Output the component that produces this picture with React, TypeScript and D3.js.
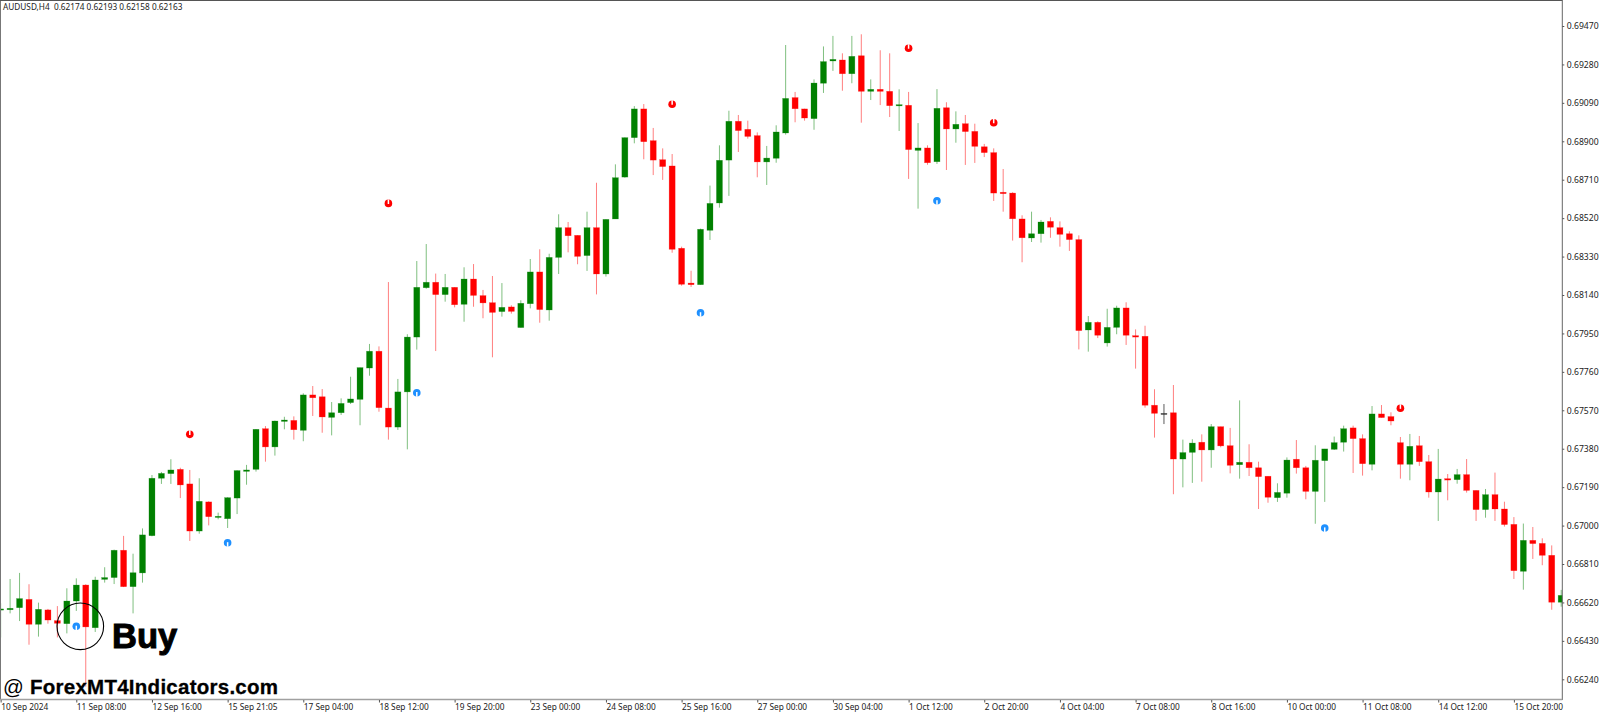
import * as d3 from "d3";
import { useEffect, useRef } from "react";

// prices are stored in points (1 point = 0.00001)
const opens = [
  66585, 66584, 66594, 66635, 66512, 66583, 66530, 66515, 66627, 66706, 66495, 66734, 66743, 66878, 66698, 66766,
  66950, 67234, 67257, 67278, 67206, 66973, 67117, 67041, 67034, 67136, 67268, 67278, 67479, 67389, 67515, 67520,
  67471, 67646, 67637, 67535, 67558, 67608, 67624, 67779, 67862, 67581, 67487, 67661, 67932, 68176, 68203, 68142,
  68178, 68094, 68219, 68137, 68102, 68058, 68081, 67979, 68097, 68254, 68066, 68326, 68473, 68435, 68335, 68473,
  68244, 68516, 68723, 68918, 69060, 68903, 68809, 68778, 68371, 68199, 68191, 68460, 68595, 68807, 68999, 68959,
  68928, 68798, 68816, 68941, 69116, 69060, 69012, 69187, 69297, 69302, 69234, 69323, 69147, 69157, 69147, 69076,
  69078, 68855, 68867, 68799, 69066, 68961, 68987, 68949, 68873, 68844, 68648, 68644, 68516, 68422, 68443, 68504,
  68473, 68443, 68414, 67967, 68005, 67903, 67980, 68076, 67939, 67936, 67595, 67555, 67558, 67329, 67362, 67412,
  67374, 67489, 67395, 67301, 67313, 67286, 67244, 67138, 67160, 67328, 67286, 67169, 67321, 67377, 67412, 67483,
  67430, 67303, 67552, 67539, 67410, 67303, 67395, 67316, 67166, 67232, 67227, 67252, 67174, 67079, 67153, 67082,
  67006, 66774, 66927, 66912, 66853, 66621,
];
const highs = [
  66616, 66736, 66766, 66710, 66619, 66588, 66602, 66690, 66739, 66710, 66747, 66794, 66881, 66949, 66861, 66986,
  67250, 67265, 67328, 67286, 67275, 67234, 67120, 67064, 67140, 67273, 67300, 67477, 67492, 67519, 67538, 67540,
  67654, 67690, 67675, 67611, 67629, 67736, 67781, 67898, 67886, 68204, 67725, 67946, 68308, 68392, 68246, 68244,
  68178, 68277, 68293, 68165, 68234, 68199, 68089, 68114, 68318, 68366, 68344, 68539, 68501, 68435, 68552, 68695,
  68514, 68786, 68919, 69074, 69084, 68966, 68865, 68837, 68379, 68260, 68468, 68681, 68880, 69051, 69030, 69002,
  68944, 68877, 68979, 69376, 69144, 69061, 69206, 69369, 69421, 69335, 69421, 69429, 69206, 69350, 69335, 69157,
  69144, 68990, 68880, 69158, 69093, 69048, 69030, 68987, 68887, 68865, 68763, 68648, 68534, 68552, 68511, 68524,
  68504, 68455, 68435, 68036, 68010, 68072, 68087, 68104, 67970, 67988, 67674, 67601, 67695, 67425, 67427, 67451,
  67502, 67489, 67483, 67619, 67402, 67316, 67244, 67209, 67337, 67423, 67295, 67397, 67379, 67440, 67494, 67494,
  67451, 67591, 67596, 67560, 67438, 67453, 67443, 67349, 67379, 67255, 67280, 67329, 67174, 67181, 67262, 67118,
  67042, 67010, 66993, 66937, 66902, 66682,
];
const lows = [
  66447, 66566, 66528, 66411, 66451, 66515, 66447, 66467, 66578, 66204, 66474, 66718, 66711, 66696, 66566, 66718,
  66947, 67206, 67206, 67136, 66924, 66960, 67001, 67031, 66988, 67057, 67202, 67267, 67316, 67346, 67476, 67425,
  67417, 67542, 67459, 67446, 67547, 67601, 67496, 67741, 67563, 67425, 67473, 67377, 67870, 68171, 67863, 68107,
  68079, 68008, 68082, 68025, 67832, 68033, 68048, 67979, 68074, 68003, 68013, 68244, 68351, 68292, 68259, 68143,
  68231, 68516, 68720, 68890, 68811, 68733, 68709, 68349, 68186, 68180, 68191, 68412, 68572, 68630, 68847, 68913,
  68722, 68684, 68794, 68933, 68994, 69002, 68957, 69139, 69248, 69150, 69187, 68992, 69104, 69079, 69020, 68951,
  68714, 68567, 68784, 68788, 68758, 68893, 68783, 68793, 68822, 68605, 68552, 68409, 68302, 68402, 68399, 68423,
  68379, 68358, 67871, 67860, 67927, 67885, 67946, 67893, 67776, 67583, 67435, 67502, 67155, 67189, 67211, 67217,
  67286, 67387, 67258, 67232, 67245, 67082, 67113, 67117, 67138, 67257, 67130, 67009, 67117, 67374, 67366, 67260,
  67247, 67273, 67534, 67496, 67232, 67224, 67295, 67138, 67023, 67125, 67207, 67163, 67023, 67039, 67023, 66995,
  66736, 66683, 66835, 66804, 66584, 66599,
];
const closes = [
  66588, 66591, 66639, 66512, 66586, 66533, 66517, 66627, 66706, 66499, 66731, 66743, 66878, 66698, 66767, 66954,
  67234, 67258, 67275, 67201, 66973, 67120, 67044, 67046, 67138, 67272, 67275, 67476, 67389, 67517, 67522, 67474,
  67646, 67632, 67537, 67558, 67604, 67626, 67781, 67862, 67583, 67487, 67661, 67932, 68178, 68203, 68142, 68178,
  68092, 68219, 68138, 68101, 68054, 68079, 68059, 68099, 68254, 68068, 68326, 68473, 68433, 68331, 68473, 68244,
  68514, 68720, 68918, 69060, 68898, 68807, 68775, 68366, 68193, 68191, 68465, 68593, 68806, 68999, 68953, 68924,
  68798, 68817, 68946, 69112, 69061, 69015, 69188, 69294, 69305, 69234, 69320, 69147, 69157, 69147, 69076, 69081,
  68859, 68867, 68794, 69063, 68961, 68984, 68948, 68875, 68844, 68644, 68641, 68517, 68423, 68443, 68501, 68475,
  68440, 68414, 67964, 68005, 67941, 67980, 68076, 67941, 67932, 67595, 67555, 67555, 67329, 67361, 67408, 67374,
  67489, 67394, 67298, 67313, 67286, 67242, 67140, 67164, 67324, 67286, 67169, 67323, 67379, 67410, 67479, 67430,
  67306, 67552, 67534, 67517, 67303, 67392, 67316, 67166, 67230, 67225, 67252, 67174, 67079, 67153, 67082, 67005,
  66777, 66927, 66911, 66853, 66621, 66655,
];

const sellIndex = [20, 41, 71, 96, 105, 148];
const sellPrice = [67451, 68593, 69083, 69360, 68992, 67580];
const buyIndex = [8, 24, 44, 74, 99, 140];
const buyPrice = [66502, 66915, 67657, 68052, 68606, 66988];

const priceTicks = [69470, 69280, 69090, 68900, 68710, 68520, 68330, 68140, 67950, 67760, 67570, 67380, 67190, 67000, 66810, 66620, 66430, 66240];
const timeLabels = [
  "10 Sep 2024", "11 Sep 08:00", "12 Sep 16:00", "15 Sep 21:05", "17 Sep 04:00", "18 Sep 12:00", "19 Sep 20:00",
  "23 Sep 00:00", "24 Sep 08:00", "25 Sep 16:00", "27 Sep 00:00", "30 Sep 04:00", "1 Oct 12:00", "2 Oct 20:00",
  "4 Oct 04:00", "7 Oct 08:00", "8 Oct 16:00", "10 Oct 00:00", "11 Oct 08:00", "14 Oct 12:00", "15 Oct 20:00",
];

const width = 1600;
const height = 714;
const plotRight = 1562.3;
const plotBottom = 700;
const bodyWidth = 6;
const axisFont = "'Noto Sans', sans-serif";

const x = d3.scaleLinear().domain([0, 160]).range([0.64, 1513.9]);
const y = d3.scaleLinear().domain([66240, 69470]).range([679.3, 26]);

function candleColor(i: number) {
  if (closes[i] > opens[i]) return "#008000";
  if (closes[i] < opens[i]) return "#ff0000";
  return "#333333";
}

// round arrow mark with a white slit: dir -1 opens upward (sell), dir 1 opens downward (buy)
function ArrowMark({ cx, cy, color, dir }: { cx: number; cy: number; color: string; dir: number }) {
  return (
    <g transform={`translate(${cx},${cy})`}>
      <circle r={3.8} fill={color} />
      <line x1={0} x2={0} y1={dir * -0.6} y2={dir * 4} stroke="#fff" strokeWidth={1.5} />
    </g>
  );
}

export default function App() {
  const svgRef = useRef<SVGSVGElement>(null);

  useEffect(() => {
    if (!svgRef.current) return;
    const svg = d3.select(svgRef.current);
    svg.selectAll(".axis").remove();

    const priceAxis = d3.axisRight(y)
      .tickValues(priceTicks)
      .tickSize(2)
      .tickPadding(2.5)
      .tickFormat(d => (Number(d) / 1e5).toFixed(5));
    const gPrice = svg.append("g").attr("class", "axis").attr("transform", `translate(${plotRight},0)`).call(priceAxis);
    gPrice.select(".domain").remove();
    gPrice.selectAll("line").attr("stroke", "#555");
    gPrice.selectAll("text").attr("fill", "#222").style("font", `8.6px ${axisFont}`);

    const timeAxis = d3.axisBottom(x)
      .tickValues(timeLabels.map((_, i) => i * 8))
      .tickSize(2.5)
      .tickFormat((_, i) => timeLabels[i]);
    const gTime = svg.append("g").attr("class", "axis").attr("transform", `translate(0,${plotBottom})`).call(timeAxis);
    gTime.select(".domain").remove();
    gTime.selectAll("line").attr("stroke", "#555");
    gTime.selectAll("text")
      .attr("fill", "#222")
      .attr("text-anchor", "start")
      .attr("y", 4)
      .style("font", `8.3px ${axisFont}`);
  }, []);

  return (
    <svg ref={svgRef} width={width} height={height} style={{ position: "absolute", left: 0, top: 0, background: "#fff" }}>
      <defs>
        <clipPath id="plot">
          <rect x={1} y={1} width={plotRight - 1} height={plotBottom - 1} />
        </clipPath>
      </defs>

      <g clipPath="url(#plot)">
        {opens.map((o, i) => {
          const top = y(Math.max(o, closes[i]));
          const bottom = y(Math.min(o, closes[i]));
          return (
            <g key={i} fill={candleColor(i)} stroke={candleColor(i)}>
              <line x1={x(i)} x2={x(i)} y1={y(highs[i])} y2={y(lows[i])} strokeWidth={1} strokeOpacity={o === closes[i] ? 0.8 : 0.5} />
              <rect x={x(i) - bodyWidth / 2} y={top} width={bodyWidth} height={Math.max(bottom - top, 1.2)} strokeWidth={0.6} strokeOpacity={0.4} />
            </g>
          );
        })}
        {sellIndex.map((d, i) => (
          <ArrowMark key={d} cx={x(d)} cy={y(sellPrice[i])} color="#ff0000" dir={-1} />
        ))}
        {buyIndex.map((d, i) => (
          <ArrowMark key={d} cx={x(d)} cy={y(buyPrice[i])} color="#1e90ff" dir={1} />
        ))}
      </g>

      {/* chart frame */}
      <line x1={0.5} x2={0.5} y1={0} y2={plotBottom} stroke="#777" strokeWidth={1} />
      <line x1={0} x2={plotRight} y1={0.5} y2={0.5} stroke="#555" strokeWidth={1} />
      <line x1={plotRight} x2={plotRight} y1={0} y2={plotBottom} stroke="#666" strokeWidth={1} />
      <line x1={0} x2={plotRight} y1={plotBottom - 0.5} y2={plotBottom - 0.5} stroke="#a0a0a0" strokeWidth={1.6} />

      <text x={3} y={10} fontFamily={axisFont} fontSize={8.25} fill="#222" xmlSpace="preserve">
        AUDUSD,H4  0.62174 0.62193 0.62158 0.62163
      </text>

      <circle cx={80.3} cy={626.3} r={23.3} fill="none" stroke="#000" strokeWidth={1.1} />
      <text x={112} y={648.3} fontFamily="'Liberation Sans', sans-serif" fontWeight="bold" fontSize={34.5} fill="#000" stroke="#000" strokeWidth={1}>
        Buy
      </text>
      <text x={3} y={694.3} fontFamily="'Liberation Sans', sans-serif" fontWeight="bold" fontSize={20.5} fill="#000" stroke="#000" strokeWidth={0.3} textLength={275}>
        <tspan fontWeight="normal" stroke="none">@</tspan> ForexMT4Indicators.com
      </text>
    </svg>
  );
}
